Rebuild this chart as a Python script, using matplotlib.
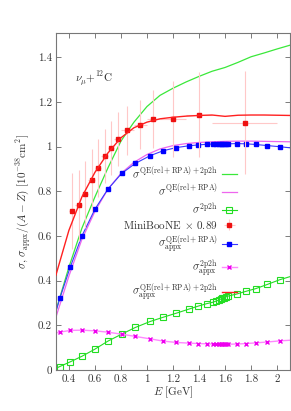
"""Neutrino-carbon cross sections compared with MiniBooNE data."""

import matplotlib
matplotlib.use("Agg")
import matplotlib.pyplot as plt
from matplotlib.ticker import FuncFormatter, MultipleLocator

plt.rcParams["font.family"] = ["cmr10", "DejaVu Serif"]
plt.rcParams["mathtext.fontset"] = "cm"
plt.rcParams["axes.formatter.use_mathtext"] = True

# smooth curves, sampled on a regular energy grid [GeV]
E_LINE = [0.3, 0.4, 0.5, 0.6, 0.7, 0.8, 0.9, 1.0, 1.1, 1.2, 1.3, 1.4,
          1.5, 1.6, 1.7, 1.8, 1.9, 2.0, 2.1]
SIG_QE_2P2H = [0.265, 0.46, 0.635, 0.775, 0.905, 1.025, 1.11, 1.18, 1.23,
               1.262, 1.29, 1.315, 1.338, 1.355, 1.378, 1.403, 1.42, 1.438, 1.455]
SIG_QE = [0.235, 0.42, 0.585, 0.71, 0.81, 0.88, 0.93, 0.965, 0.99, 1.005,
          1.014, 1.019, 1.022, 1.024, 1.025, 1.025, 1.024, 1.023, 1.022]
SIG_APPX_TOT = [0.424, 0.625, 0.775, 0.885, 0.972, 1.04, 1.085, 1.11, 1.125,
                1.132, 1.137, 1.14, 1.142, 1.136, 1.141, 1.142, 1.142, 1.141, 1.14]

# sampled points (with line end values at 0.3 and 2.1 GeV)
E_PTS = [0.33, 0.41, 0.50, 0.60, 0.70, 0.805, 0.91, 1.025, 1.125, 1.225,
         1.32, 1.395, 1.46, 1.505, 1.53, 1.55, 1.565, 1.58, 1.595, 1.61,
         1.625, 1.69, 1.76, 1.835, 1.925, 2.02]
E_ENDS = [0.3, 2.1]
SIG_2P2H = [0.015, 0.036, 0.061, 0.093, 0.129, 0.16, 0.19, 0.217, 0.236,
            0.254, 0.272, 0.286, 0.297, 0.303, 0.308, 0.313, 0.317, 0.32,
            0.324, 0.328, 0.331, 0.34, 0.352, 0.364, 0.383, 0.404]
SIG_2P2H_ENDS = [0.007, 0.418]
SIG_APPX_2P2H = [0.169, 0.177, 0.178, 0.175, 0.169, 0.16, 0.15, 0.139, 0.129,
                 0.123, 0.12, 0.118, 0.117, 0.116, 0.116, 0.115, 0.115, 0.115,
                 0.115, 0.115, 0.115, 0.116, 0.118, 0.121, 0.125, 0.13]
SIG_APPX_2P2H_ENDS = [0.166, 0.133]
SIG_APPX_QE = [0.32, 0.46, 0.60, 0.72, 0.81, 0.88, 0.925, 0.96, 0.982, 0.996,
               1.004, 1.008, 1.011, 1.012, 1.012, 1.013, 1.013, 1.013, 1.013,
               1.013, 1.013, 1.014, 1.013, 1.010, 1.005, 1.000]
SIG_APPX_QE_ENDS = [0.26, 0.995]

# MiniBooNE data (scaled by 0.89)
E_MB = [0.425, 0.475, 0.525, 0.575, 0.625, 0.675, 0.725, 0.775, 0.85, 0.95,
        1.05, 1.2, 1.4, 1.75]
E_MB_ERR = [0.025, 0.025, 0.025, 0.025, 0.025, 0.025, 0.025, 0.025, 0.05,
            0.05, 0.05, 0.1, 0.1, 0.25]
SIG_MB = [0.713, 0.737, 0.787, 0.851, 0.903, 0.959, 0.993, 1.034, 1.074,
          1.099, 1.125, 1.126, 1.143, 1.107]
SIG_MB_ERR = [0.17, 0.16, 0.15, 0.14, 0.13, 0.12, 0.12, 0.12, 0.11, 0.11,
              0.13, 0.17, 0.19, 0.23]


def with_ends(x, y, x_ends, y_ends):
    return [x_ends[0]] + x + [x_ends[1]], [y_ends[0]] + y + [y_ends[1]]


def main() -> None:
    fig = plt.figure(figsize=(2.91, 4.11), dpi=100)
    ax = fig.add_axes([0.192, 0.10, 0.805, 0.82])

    fs = 8
    every = slice(1, -1)

    h1, = ax.plot(E_LINE, SIG_QE_2P2H, color="#3ae83a", lw=0.9)
    h2, = ax.plot(E_LINE, SIG_QE, color="#ee66ee", lw=0.9)

    x, y = with_ends(E_PTS, SIG_2P2H, E_ENDS, SIG_2P2H_ENDS)
    h3, = ax.plot(x, y, color="#22dd22", lw=0.8, marker="s", ms=4.2,
                  mfc="none", mec="#22dd22", mew=0.8, markevery=every)

    h4 = ax.errorbar(E_MB, SIG_MB, xerr=E_MB_ERR, yerr=SIG_MB_ERR, fmt="s",
                     color="#ee1111", ms=2.6, ecolor="#ffc8c8", elinewidth=0.8,
                     capsize=0, zorder=3)

    x, y = with_ends(E_PTS, SIG_APPX_QE, E_ENDS, SIG_APPX_QE_ENDS)
    h5, = ax.plot(x, y, color="#3a3aff", lw=0.8, marker="s", ms=2.8,
                  mfc="#0000ff", mec="#0000ff", markevery=every)

    x, y = with_ends(E_PTS, SIG_APPX_2P2H, E_ENDS, SIG_APPX_2P2H_ENDS)
    h6, = ax.plot(x, y, color="#ff88ff", lw=1.0, marker="x", ms=3.5,
                  mec="#ee00ee", mew=1.0, markevery=every)

    h7, = ax.plot(E_LINE, SIG_APPX_TOT, color="#ff2020", lw=1.0, zorder=4)

    labels = [
        r"$\sigma^{\rm QE(rel+RPA)+2p2h}$",
        r"$\sigma^{\rm QE(rel+RPA)}$",
        r"$\sigma^{\rm 2p2h}$",
        r"MiniBooNE $\times$ 0.89",
        r"$\sigma^{\rm QE(rel+RPA)}_{\rm appx}$",
        r"$\sigma^{\rm 2p2h}_{\rm appx}$",
        r"$\sigma^{\rm QE(rel+RPA)+2p2h}_{\rm appx}$",
    ]
    leg = ax.legend([h1, h2, h3, h4, h5, h6, h7], labels, frameon=False,
                    markerfirst=False, loc="upper right",
                    bbox_to_anchor=(0.772, 0.607), borderpad=0,
                    borderaxespad=0, handlelength=1.3, handletextpad=0.4,
                    labelspacing=0.24, fontsize=fs)
    for t in leg.get_texts():
        t.set_color("#333333")

    ax.text(0.445, 1.30, r"$\nu_\mu$+$^{12}$C", fontsize=fs, color="#333333",
            va="center")

    ax.set_xlim(0.3, 2.1)
    ax.set_ylim(0, 1.51)
    ax.xaxis.set_major_locator(MultipleLocator(0.2))
    ax.yaxis.set_major_locator(MultipleLocator(0.2))
    fmt = FuncFormatter(lambda v, _: f"{v:g}")
    ax.xaxis.set_major_formatter(fmt)
    ax.yaxis.set_major_formatter(fmt)
    ax.tick_params(direction="in", top=True, right=True, length=3.5,
                   width=0.6, color="#666666", labelsize=fs,
                   labelcolor="#333333", pad=3)
    for s in ax.spines.values():
        s.set_color("#777777")
        s.set_linewidth(0.8)

    ax.set_xlabel(r"$E$ [GeV]", fontsize=fs, color="#333333", labelpad=1)
    ax.set_ylabel(r"$\sigma,\,\sigma_{\rm appx}/(A-Z)\ [10^{-38}{\rm cm}^2]$",
                  fontsize=fs, color="#333333", labelpad=3)

    fig.savefig("out.png", dpi=100)


if __name__ == "__main__":
    main()
